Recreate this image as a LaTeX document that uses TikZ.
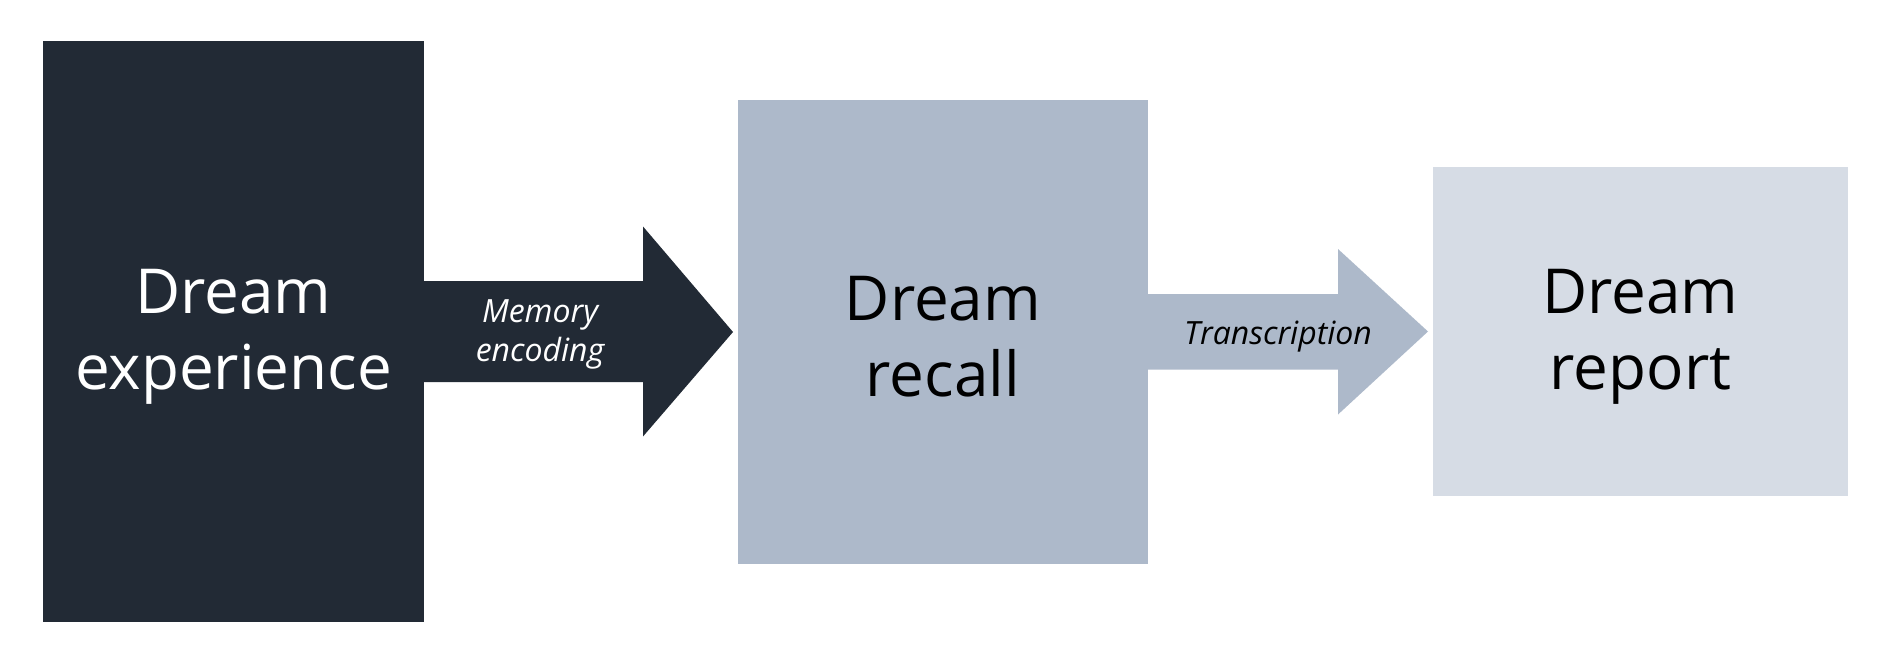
\documentclass[tikz,border=0pt]{standalone}
\usepackage{fontspec}
\setmainfont{Open Sans}
\usetikzlibrary{calc}
\definecolor{darkbox}{HTML}{222A35}
\definecolor{midbox}{HTML}{ADB9CA}
\definecolor{lightbox}{HTML}{D6DCE5}
\tikzset{
  box/.style={anchor=north west, inner sep=0pt, outer sep=0pt},
  boxtext/.style={align=center, inner sep=0pt, yshift=-5pt,
    font=\fontsize{62}{76}\selectfont},
  arrlabel/.style={align=center, inner sep=0pt, yshift=-5pt, font=\fontsize{32}{39}\selectfont\itshape}
}
\begin{document}
\begin{tikzpicture}[x=1pt,y=-1pt]
\useasboundingbox (0,0) rectangle (1890,663);
\node[box, fill=darkbox, minimum width=381pt, minimum height=581pt] (b1) at (43,41) {};
\node[box, fill=midbox, minimum width=410pt, minimum height=464pt] (b2) at (738,100) {};
\node[box, fill=lightbox, minimum width=415pt, minimum height=329pt] (b3) at (1433,167) {};
\node[boxtext, text=white] (x1) at (b1.center) {Dream\\experience};
\node[boxtext, text=black] (x2) at (b2.center) {Dream\\recall};
\node[boxtext, text=black] (x3) at (b3.center) {Dream\\report};
% arrow 1
\coordinate (t1) at ($(b2.west)+(-5,0)$);
\fill[darkbox] (b1.east) ++(-1,-50.5) -- ++(220,0) -- ++(0,-54.5) -- (t1)
  -- ($(b1.east)+(219,105)$) -- ++(0,-54.5) -- ++(-220,0) -- cycle;
\node[arrlabel, text=white] (l1) at ($(b1.east)+(116,-2)$) {Memory\\encoding};
% arrow 2
\coordinate (t2) at ($(b3.west)+(-5,0)$);
\fill[midbox] (b2.east) ++(-1,-38) -- ++(191,0) -- ++(0,-45) -- (t2)
  -- ($(b2.east)+(190,82.5)$) -- ++(0,-45) -- ++(-191,0) -- cycle;
\node[arrlabel, text=black] (l2) at ($(b2.east)+(130,0)$) {Transcription};
\end{tikzpicture}
\end{document}
